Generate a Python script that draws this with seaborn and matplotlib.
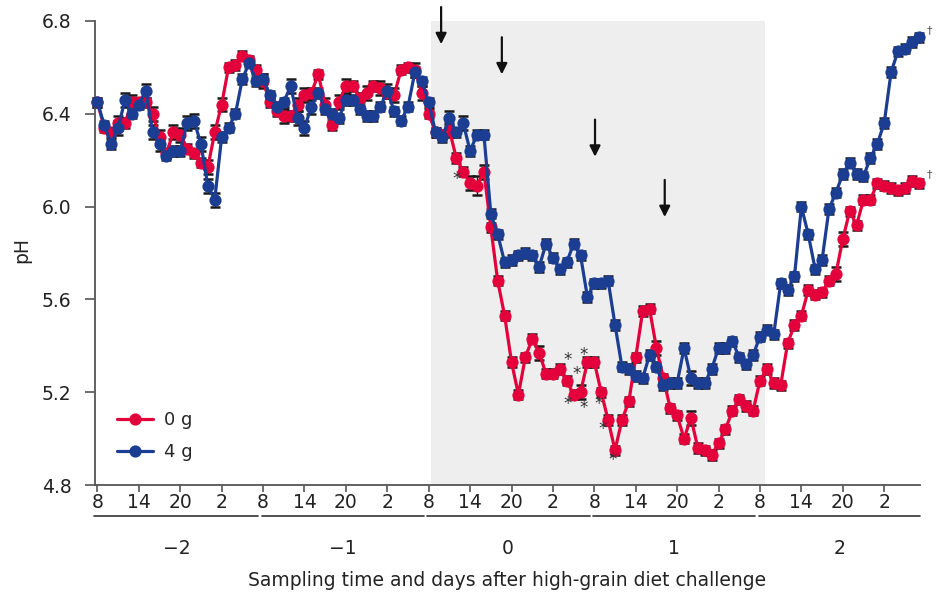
import matplotlib
matplotlib.use("Agg")
import matplotlib.pyplot as plt
import pandas as pd
import seaborn as sns

# hourly rumen pH, from 8 h on day -2 to 7 h on day 3
hours = list(range(120))
ph_0g = [
    6.45, 6.34, 6.32, 6.36, 6.36, 6.45, 6.45, 6.45, 6.40, 6.30, 6.23, 6.32,
    6.31, 6.25, 6.23, 6.19, 6.17, 6.32, 6.44, 6.60, 6.61, 6.65, 6.63, 6.59,
    6.54, 6.45, 6.41, 6.39, 6.39, 6.44, 6.48, 6.49, 6.57, 6.44, 6.35, 6.45,
    6.52, 6.52, 6.47, 6.49, 6.52, 6.51, 6.49, 6.48, 6.59, 6.60, 6.59, 6.49,
    6.40, 6.32, 6.31, 6.33, 6.21, 6.15, 6.10, 6.09, 6.15, 5.91, 5.68, 5.53,
    5.33, 5.19, 5.35, 5.43, 5.37, 5.28, 5.28, 5.30, 5.25, 5.19, 5.20, 5.33,
    5.33, 5.20, 5.08, 4.95, 5.08, 5.16, 5.35, 5.55, 5.56, 5.39, 5.26, 5.13,
    5.10, 5.00, 5.09, 4.96, 4.95, 4.93, 4.98, 5.04, 5.12, 5.17, 5.14, 5.12,
    5.25, 5.30, 5.24, 5.23, 5.41, 5.49, 5.53, 5.64, 5.62, 5.63, 5.68, 5.71,
    5.86, 5.98, 5.92, 6.03, 6.03, 6.10, 6.09, 6.08, 6.07, 6.08, 6.11, 6.10,
]
ph_4g = [
    6.45, 6.35, 6.27, 6.34, 6.46, 6.40, 6.44, 6.50, 6.32, 6.27, 6.22, 6.24,
    6.24, 6.36, 6.37, 6.27, 6.09, 6.03, 6.30, 6.34, 6.40, 6.55, 6.62, 6.54,
    6.55, 6.48, 6.43, 6.45, 6.52, 6.38, 6.34, 6.43, 6.49, 6.42, 6.40, 6.38,
    6.46, 6.46, 6.42, 6.39, 6.39, 6.43, 6.50, 6.41, 6.37, 6.43, 6.58, 6.54,
    6.45, 6.32, 6.30, 6.38, 6.32, 6.36, 6.24, 6.31, 6.31, 5.97, 5.88, 5.76,
    5.77, 5.79, 5.80, 5.79, 5.74, 5.84, 5.78, 5.73, 5.76, 5.84, 5.79, 5.61,
    5.67, 5.67, 5.68, 5.49, 5.31, 5.30, 5.27, 5.26, 5.36, 5.31, 5.23, 5.24,
    5.24, 5.39, 5.26, 5.24, 5.24, 5.30, 5.39, 5.39, 5.42, 5.35, 5.32, 5.36,
    5.44, 5.47, 5.45, 5.67, 5.64, 5.70, 6.00, 5.88, 5.73, 5.77, 5.99, 6.06,
    6.14, 6.19, 6.14, 6.13, 6.21, 6.27, 6.36, 6.58, 6.67, 6.68, 6.71, 6.73,
]
sem_0g = [
    0.02, 0.02, 0.02, 0.03, 0.02, 0.03, 0.02, 0.02, 0.03, 0.03, 0.02, 0.03,
    0.03, 0.02, 0.02, 0.02, 0.03, 0.03, 0.03, 0.02, 0.02, 0.02, 0.02, 0.02,
    0.03, 0.02, 0.02, 0.03, 0.02, 0.03, 0.03, 0.02, 0.02, 0.03, 0.02, 0.03,
    0.03, 0.02, 0.02, 0.03, 0.02, 0.03, 0.02, 0.03, 0.02, 0.02, 0.03, 0.03,
    0.02, 0.02, 0.02, 0.03, 0.02, 0.02, 0.03, 0.04, 0.03, 0.02, 0.02, 0.02,
    0.02, 0.02, 0.02, 0.02, 0.03, 0.02, 0.02, 0.02, 0.02, 0.02, 0.03, 0.02,
    0.02, 0.02, 0.02, 0.02, 0.02, 0.02, 0.02, 0.02, 0.02, 0.03, 0.02, 0.02,
    0.02, 0.02, 0.03, 0.02, 0.02, 0.02, 0.02, 0.02, 0.02, 0.02, 0.02, 0.02,
    0.02, 0.02, 0.02, 0.02, 0.02, 0.02, 0.02, 0.02, 0.02, 0.02, 0.02, 0.03,
    0.03, 0.02, 0.02, 0.02, 0.02, 0.02, 0.02, 0.02, 0.02, 0.02, 0.02, 0.02,
]
sem_4g = [
    0.02, 0.02, 0.02, 0.03, 0.03, 0.02, 0.02, 0.03, 0.03, 0.03, 0.02, 0.02,
    0.02, 0.03, 0.03, 0.03, 0.03, 0.03, 0.02, 0.02, 0.02, 0.02, 0.02, 0.02,
    0.02, 0.02, 0.02, 0.02, 0.03, 0.03, 0.03, 0.03, 0.02, 0.02, 0.02, 0.02,
    0.02, 0.02, 0.02, 0.02, 0.02, 0.02, 0.03, 0.02, 0.02, 0.02, 0.02, 0.02,
    0.02, 0.02, 0.02, 0.03, 0.02, 0.03, 0.02, 0.02, 0.02, 0.02, 0.02, 0.02,
    0.02, 0.02, 0.02, 0.02, 0.02, 0.02, 0.02, 0.02, 0.02, 0.02, 0.02, 0.02,
    0.02, 0.02, 0.02, 0.02, 0.02, 0.02, 0.02, 0.02, 0.02, 0.02, 0.02, 0.02,
    0.02, 0.02, 0.03, 0.02, 0.02, 0.02, 0.02, 0.02, 0.02, 0.02, 0.02, 0.02,
    0.02, 0.02, 0.02, 0.02, 0.02, 0.02, 0.02, 0.02, 0.02, 0.02, 0.02, 0.02,
    0.02, 0.02, 0.02, 0.02, 0.02, 0.02, 0.02, 0.02, 0.02, 0.02, 0.02, 0.02,
]
groups = ["0 g", "4 g"]
tick_labels = ["8", "14", "20", "2"] * 5
day_labels = ["\u22122", "\u22121", "0", "1", "2"]

# feeding arrows and significance marks (hour, pH)
arrow_x = [49.8, 58.6, 72.1, 82.2]
arrow_tip = [6.70, 6.57, 6.215, 5.955]
star_x = [52.0, 68.1, 69.5, 70.4, 68.2, 70.4, 72.6, 73.2, 74.6]
star_y = [6.12, 5.34, 5.28, 5.36, 5.15, 5.13, 5.15, 5.04, 4.91]
dagger_y = [6.76, 6.14]

palette = {"0 g": "#e4003b", "4 g": "#1b3e93"}

sns.set_style("ticks")
plt.rcParams["font.family"] = ["DejaVu Sans"]

df = pd.DataFrame({
    "hour": hours * 2,
    "pH": ph_0g + ph_4g,
    "sem": sem_0g + sem_4g,
    "group": [groups[0]] * len(hours) + [groups[1]] * len(hours),
})

fig = plt.figure(figsize=(9.36, 5.96), dpi=100)
ax = fig.add_axes([0.1015, 0.1862, 0.8815, 0.7786])

ax.axvspan(48.3, 96.8, color="#eeeeee", lw=0, zorder=0)

for g in groups:
    sub = df[df["group"] == g]
    eb = ax.errorbar(sub["hour"], sub["pH"], yerr=sub["sem"], fmt="none",
                     ecolor="#1a1a1a", elinewidth=1.0, capsize=3.8,
                     capthick=1.8, zorder=2)
    for art in eb.lines[1] + eb.lines[2]:
        art.set_clip_on(False)

sns.lineplot(data=df, x="hour", y="pH", hue="group", hue_order=groups,
             palette=palette, marker="o", markersize=8.8,
             markeredgewidth=0, linewidth=2.3, errorbar=None, ax=ax, zorder=3)
for ln in ax.lines:
    ln.set_clip_on(False)

ax.set_xlim(-0.35, 119.2)
ax.set_ylim(4.8, 6.8)
ax.set_xticks(range(0, 120, 6))
ax.set_xticklabels(tick_labels)
ax.set_yticks([4.8, 5.2, 5.6, 6.0, 6.4, 6.8])
ax.set_yticklabels(["4.8", "5.2", "5.6", "6.0", "6.4", "6.8"])
ax.tick_params(axis="both", labelsize=13.5, width=1.2,
               color="#555555", labelcolor="#222222")
ax.tick_params(axis="x", length=5, pad=1)
ax.tick_params(axis="y", length=7, pad=10)
ax.set_xlabel("")
ax.set_ylabel("")
sns.despine(ax=ax)
for side in ["left", "bottom"]:
    ax.spines[side].set_color("#555555")
    ax.spines[side].set_linewidth(1.3)

for a_x, a_y in zip(arrow_x, arrow_tip):
    ax.annotate("", xy=(a_x, a_y), xytext=(a_x, a_y + 0.16),
                arrowprops=dict(arrowstyle="-|>", color="#111111", lw=1.6,
                                mutation_scale=16, shrinkA=0, shrinkB=0),
                annotation_clip=False)

for s_x, s_y in zip(star_x, star_y):
    ax.text(s_x, s_y, "*", ha="center", va="center", fontsize=12,
            color="#333333")
for d_y in dagger_y:
    ax.text(120.6, d_y, "\u2020", ha="center", va="center", fontsize=8,
            color="#555555", clip_on=False)

trans = ax.get_xaxis_transform()
for k, lab in enumerate(day_labels):
    start = 24 * k - 0.2 if k else -0.5
    end = min(24 * k + 23.3, 119.2)
    ax.plot([start, end], [-0.067, -0.067], transform=trans, color="#333333",
            lw=1.2, clip_on=False)
    ax.text(24 * k + 11.5, -0.136, lab, transform=trans, ha="center",
            va="center", fontsize=13.5, color="#222222")

fig.text(507 / 936, 1 - 580 / 596,
         "Sampling time and days after high-grain diet challenge",
         ha="center", va="center", fontsize=13.5, color="#222222")
fig.text(22 / 936, 1 - 250 / 596, "pH", rotation=90, ha="center",
         va="center", fontsize=13.5, color="#222222")

handles, labels = ax.get_legend_handles_labels()
ax.legend(handles, labels, loc="lower left", bbox_to_anchor=(0.027, 0.052),
          frameon=False, fontsize=13, handlelength=2.0, handletextpad=0.6,
          labelspacing=0.75, borderpad=0, borderaxespad=0)

fig.savefig("out.png", dpi=100)
